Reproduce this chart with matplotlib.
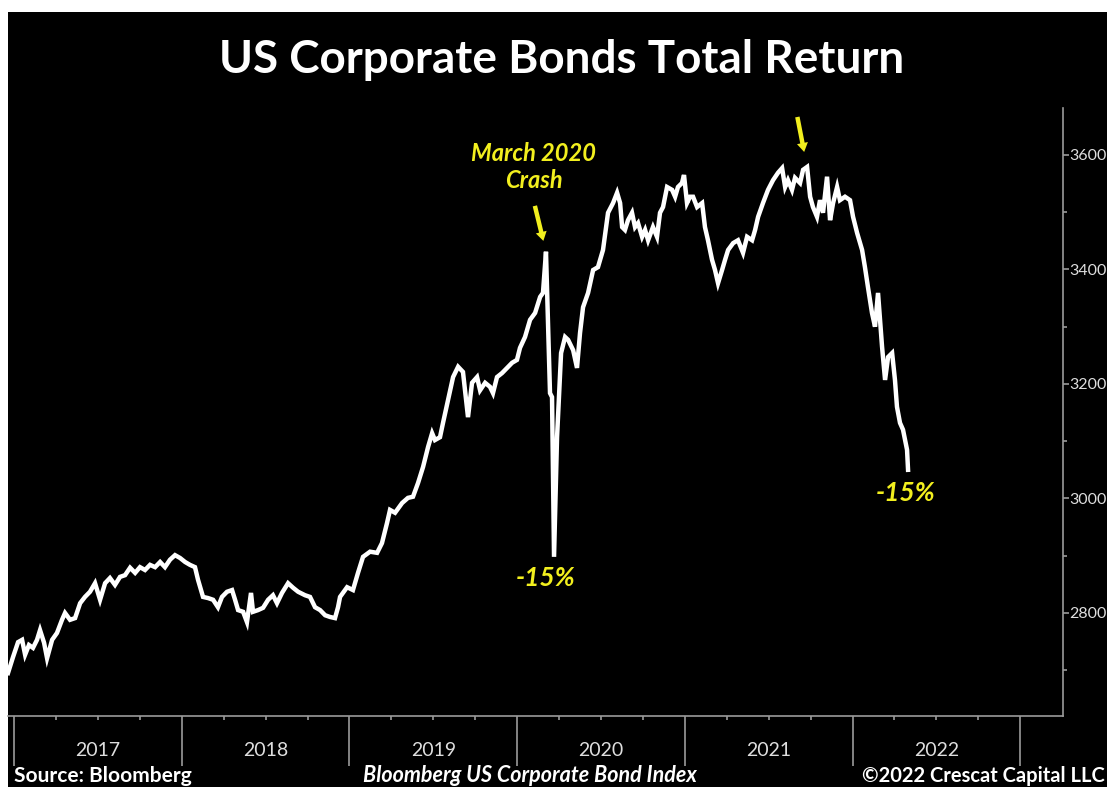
import matplotlib
matplotlib.use("Agg")
import matplotlib.pyplot as plt
import matplotlib.ticker as tick
import numpy as np
from matplotlib.patches import Rectangle

# ---- data: Bloomberg US Corporate Bond Index (total return), decimal years ----
years = [
    2016.964, 2016.994, 2017.024, 2017.048, 2017.066, 2017.089, 2017.113, 2017.137,
    2017.155, 2017.179, 2017.197, 2017.227, 2017.256, 2017.286, 2017.304, 2017.334,
    2017.364, 2017.394, 2017.423, 2017.453, 2017.483, 2017.513, 2017.543, 2017.572,
    2017.602, 2017.632, 2017.662, 2017.692, 2017.722, 2017.751, 2017.781, 2017.811,
    2017.841, 2017.871, 2017.900, 2017.930, 2017.960, 2017.990, 2018.020, 2018.049,
    2018.079, 2018.097, 2018.127, 2018.157, 2018.187, 2018.216, 2018.240, 2018.270,
    2018.300, 2018.318, 2018.336, 2018.366, 2018.389, 2018.413, 2018.425, 2018.455,
    2018.485, 2018.515, 2018.544, 2018.568, 2018.598, 2018.634, 2018.664, 2018.694,
    2018.735, 2018.765, 2018.795, 2018.825, 2018.855, 2018.884, 2018.914, 2018.932,
    2018.944, 2018.986, 2019.021, 2019.051, 2019.081, 2019.123, 2019.165, 2019.194,
    2019.224, 2019.242, 2019.272, 2019.314, 2019.349, 2019.379, 2019.409, 2019.439,
    2019.469, 2019.493, 2019.510, 2019.540, 2019.558, 2019.588, 2019.618, 2019.648,
    2019.677, 2019.707, 2019.731, 2019.761, 2019.779, 2019.809, 2019.838, 2019.856,
    2019.880, 2019.910, 2019.940, 2019.970, 2019.999, 2020.017, 2020.047, 2020.077,
    2020.107, 2020.137, 2020.154, 2020.172, 2020.196, 2020.208, 2020.220, 2020.238,
    2020.262, 2020.286, 2020.304, 2020.334, 2020.357, 2020.375, 2020.393, 2020.423,
    2020.453, 2020.482, 2020.512, 2020.542, 2020.572, 2020.596, 2020.614, 2020.626,
    2020.643, 2020.661, 2020.685, 2020.703, 2020.721, 2020.745, 2020.763, 2020.781,
    2020.810, 2020.834, 2020.852, 2020.870, 2020.894, 2020.924, 2020.942, 2020.959,
    2020.983, 2020.995, 2021.013, 2021.031, 2021.049, 2021.073, 2021.103, 2021.120,
    2021.138, 2021.162, 2021.180, 2021.198, 2021.222, 2021.240, 2021.258, 2021.288,
    2021.317, 2021.347, 2021.371, 2021.401, 2021.419, 2021.437, 2021.466, 2021.496,
    2021.526, 2021.556, 2021.580, 2021.598, 2021.615, 2021.639, 2021.657, 2021.687,
    2021.705, 2021.729, 2021.747, 2021.764, 2021.788, 2021.806, 2021.824, 2021.848,
    2021.866, 2021.884, 2021.908, 2021.925, 2021.955, 2021.985, 2022.003, 2022.027,
    2022.057, 2022.074, 2022.092, 2022.116, 2022.134, 2022.152, 2022.176, 2022.194,
    2022.212, 2022.236, 2022.253, 2022.265, 2022.283, 2022.301, 2022.325, 2022.331,
]
index_level = [
    2695, 2723, 2749, 2753, 2727, 2744, 2739, 2753,
    2770, 2748, 2721, 2753, 2765, 2788, 2800, 2788,
    2791, 2817, 2828, 2837, 2852, 2823, 2852, 2861,
    2849, 2863, 2866, 2879, 2870, 2880, 2875, 2884,
    2880, 2889, 2880, 2893, 2901, 2896, 2889, 2884,
    2880, 2858, 2828, 2826, 2823, 2810, 2828, 2837,
    2840, 2823, 2805, 2802, 2784, 2835, 2802, 2805,
    2809, 2823, 2831, 2817, 2835, 2852, 2844, 2837,
    2831, 2828, 2810, 2805, 2796, 2793, 2791, 2810,
    2828, 2845, 2840, 2870, 2898, 2907, 2905, 2922,
    2957, 2980, 2975, 2992, 3001, 3003, 3027, 3055,
    3090, 3114, 3102, 3107, 3132, 3172, 3212, 3230,
    3221, 3142, 3202, 3212, 3189, 3202, 3195, 3184,
    3212, 3219, 3228, 3237, 3242, 3263, 3282, 3312,
    3324, 3352, 3359, 3431, 3184, 3177, 2898, 3107,
    3254, 3282, 3277, 3259, 3228, 3289, 3334, 3359,
    3399, 3404, 3434, 3499, 3516, 3534, 3516, 3474,
    3469, 3486, 3499, 3474, 3481, 3457, 3469, 3451,
    3474, 3457, 3499, 3509, 3544, 3539, 3527, 3544,
    3551, 3565, 3516, 3527, 3527, 3509, 3516, 3474,
    3451, 3417, 3399, 3376, 3399, 3417, 3434, 3446,
    3451, 3429, 3457, 3451, 3469, 3492, 3516, 3539,
    3556, 3569, 3577, 3544, 3556, 3539, 3560, 3551,
    3574, 3579, 3527, 3509, 3492, 3521, 3499, 3562,
    3486, 3516, 3544, 3521, 3527, 3521, 3492, 3464,
    3434, 3404, 3369, 3324, 3300, 3359, 3265, 3207,
    3247, 3254, 3207, 3160, 3132, 3120, 3085, 3050,
]

year_labels = ["2017", "2018", "2019", "2020", "2021", "2022"]
y_major = [2800, 3000, 3200, 3400, 3600]
y_minor = [2700, 2900, 3100, 3300, 3500]

YELLOW = "#f2ef1e"
GREY = "#9a9a9a"
FONT = ["Lato", "DejaVu Sans"]

plt.rcParams["font.family"] = FONT

fig = plt.figure(figsize=(11.07, 7.87), dpi=100, facecolor="white")
# black panel, leaving a thin white margin at top and left
fig.patches.append(
    Rectangle((8 / 1107, 0), 1, 775 / 787, transform=fig.transFigure,
              facecolor="black", edgecolor="none", zorder=-10)
)

ax = fig.add_axes([8 / 1107, 71 / 787, 1055 / 1107, 608 / 787])
ax.set_facecolor("black")
ax.plot(years, index_level, color="white", lw=3.2, solid_joinstyle="miter")

ax.set_xlim(2016.964, 2023.255)
ax.set_ylim(2620, 3682)

ax.spines[["top", "left"]].set_visible(False)
for side in ("bottom", "right"):
    ax.spines[side].set_color(GREY)
    ax.spines[side].set_linewidth(1.2)

# y axis on the right
ax.yaxis.tick_right()
ax.yaxis.set_major_locator(tick.FixedLocator(y_major))
ax.yaxis.set_minor_locator(tick.FixedLocator(y_minor))
ax.tick_params(axis="y", which="both", direction="out", color=GREY, width=1.2,
               labelcolor="#dedede", labelsize=11.5, pad=0.5)
ax.tick_params(axis="y", which="major", length=4)
ax.tick_params(axis="y", which="minor", length=3)

# x axis: long year separators, quarter ticks, year labels mid-year
ax.xaxis.set_major_locator(tick.FixedLocator(range(2017, 2024)))
ax.xaxis.set_major_formatter(tick.NullFormatter())
quarters = [y + q for y in range(2017, 2023) for q in (0.25, 0.5, 0.75)]
ax.xaxis.set_minor_locator(tick.FixedLocator(quarters))
label_map = {y + 0.5: lab for y, lab in zip(range(2017, 2023), year_labels)}
ax.xaxis.set_minor_formatter(
    tick.FuncFormatter(lambda v, pos: label_map.get(round(v, 2), ""))
)
ax.tick_params(axis="x", which="major", direction="out", length=36, width=1.2, color=GREY)
ax.tick_params(axis="x", which="minor", direction="out", length=3, width=1.2, color=GREY,
               labelcolor="#dedede", labelsize=14, pad=16)

# annotations
yrs = np.array(years)
lvl = np.array(index_level)
crash = (yrs > 2020.0) & (yrs < 2020.3)
i_pk1 = np.where(crash)[0][np.argmax(lvl[crash])]
i_tr1 = np.where(crash)[0][np.argmin(lvl[crash])]
i_pk2 = np.argmax(lvl)
i_end = len(lvl) - 1

arrow = dict(arrowstyle="simple,head_length=0.65,head_width=0.8,tail_width=0.32",
             color=YELLOW, shrinkA=0, lw=0)
ax.annotate("", xy=(yrs[i_pk1], lvl[i_pk1]), xytext=(-8, 33), textcoords="offset points",
            arrowprops=dict(arrow, shrinkB=8), annotation_clip=False)
ax.annotate("", xy=(yrs[i_pk2], lvl[i_pk2]), xytext=(-7, 36), textcoords="offset points",
            arrowprops=dict(arrow, shrinkB=11), annotation_clip=False)

ax.annotate("March 2020\nCrash", xy=(yrs[i_pk1], lvl[i_pk1]), xytext=(-9, 61),
            textcoords="offset points", ha="center", va="center", color=YELLOW,
            fontsize=17, fontweight="bold", fontstyle="italic", linespacing=1.25)
ax.annotate("-15%", xy=(yrs[i_tr1], lvl[i_tr1]), xytext=(-6, -15),
            textcoords="offset points", ha="center", va="center", color=YELLOW,
            fontsize=19, fontweight="bold", fontstyle="italic")
ax.annotate("-15%", xy=(yrs[i_end], lvl[i_end]), xytext=(-2, -17),
            textcoords="offset points", ha="center", va="center", color=YELLOW,
            fontsize=19, fontweight="bold", fontstyle="italic")

# titles and footer
fig.text(562 / 1107, 1 - 60 / 787, "US Corporate Bonds Total Return", ha="center",
         va="center", color="white", fontsize=33, fontweight="bold")
fig.text(14 / 1107, 11 / 787, "Source: Bloomberg", ha="left", va="center",
         color="white", fontsize=15, fontweight="bold")
fig.text(530 / 1107, 11 / 787, "Bloomberg US Corporate Bond Index", ha="center",
         va="center", color="white", fontsize=15.5, fontweight="bold", fontstyle="italic")
fig.text(1105 / 1107, 11 / 787, "\u00a92022 Crescat Capital LLC", ha="right",
         va="center", color="white", fontsize=14.5, fontweight="bold")

fig.savefig("out.png", dpi=100, facecolor=fig.get_facecolor())
